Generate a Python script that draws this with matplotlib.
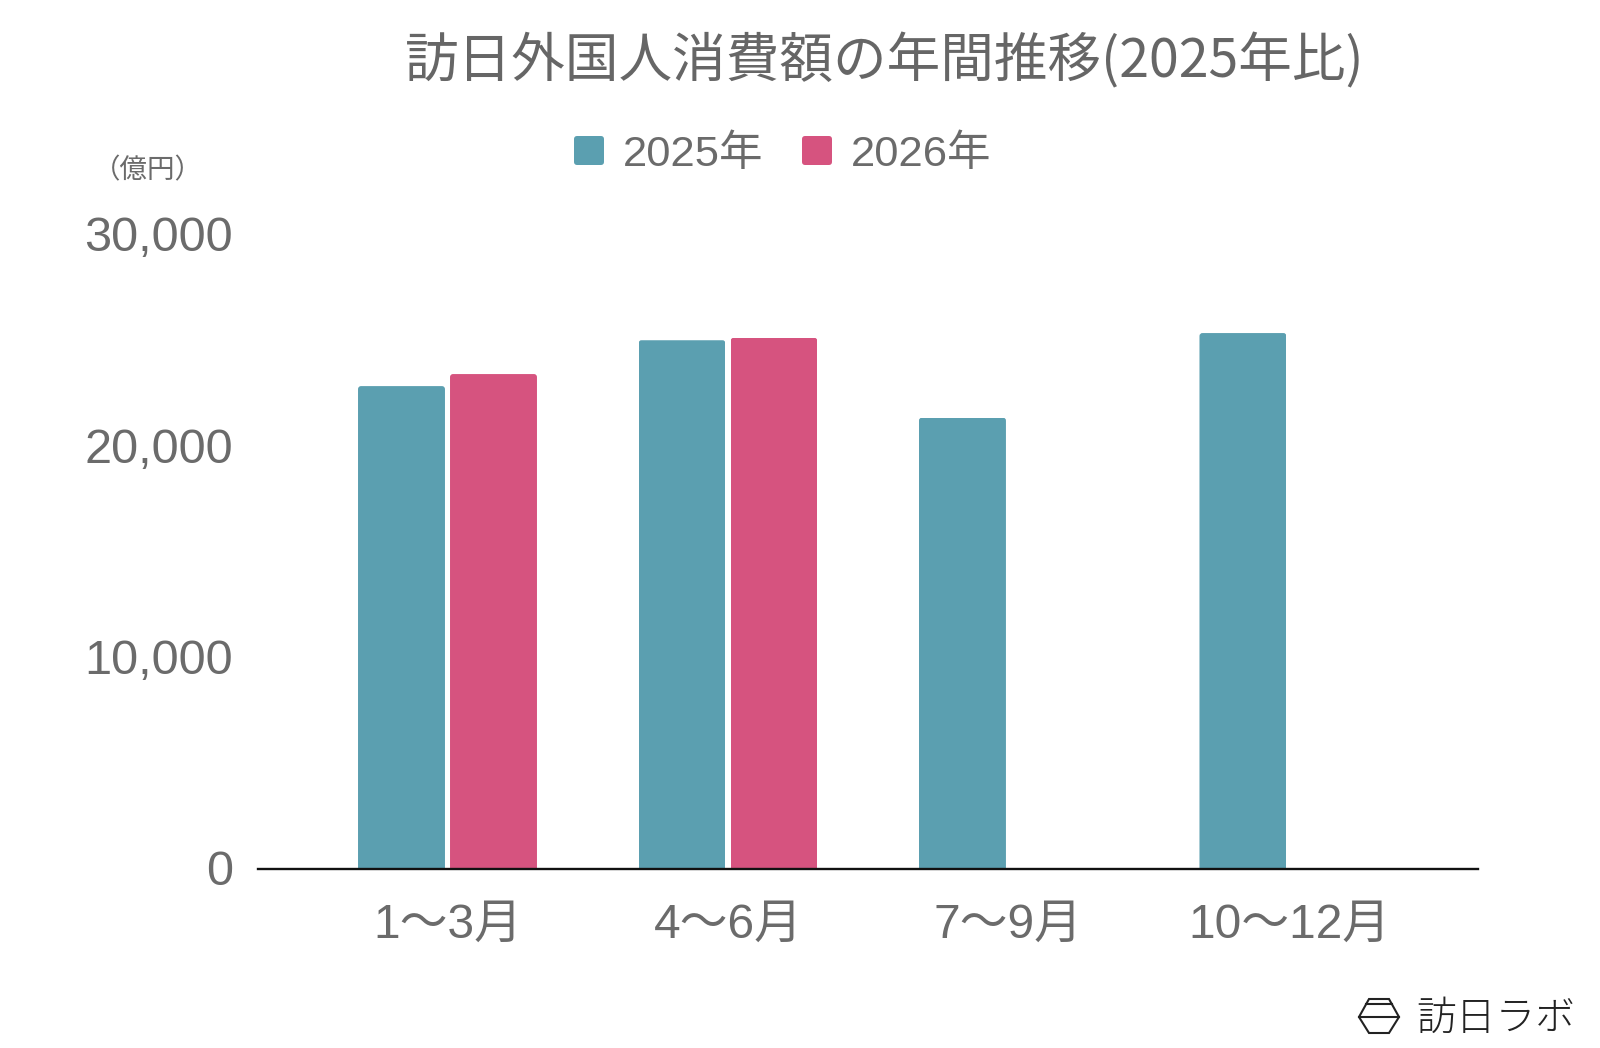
"""Quarterly inbound visitor spending, 2025 vs 2026."""

import matplotlib
matplotlib.use("Agg")
import matplotlib.pyplot as plt
import numpy as np
from matplotlib.lines import Line2D
from matplotlib.patches import FancyBboxPatch, Polygon
from matplotlib.transforms import ScaledTranslation

plt.rcParams["font.family"] = ["Liberation Sans", "Noto Sans CJK JP", "DejaVu Sans"]

QUARTERS = ["1〜3月", "4〜6月", "7〜9月", "10〜12月"]
SPEND_2025 = [22850, 25020, 21360, 25360]
SPEND_2026 = [23420, 25130]
YTICKS = [0, 10000, 20000, 30000]

C_2025 = "#5b9fb0"
C_2026 = "#d6537f"
GREY = "#6b6b6b"
CJK = ["Noto Sans CJK JP", "DejaVu Sans"]

W, H = 1600, 1048
BAR_W = 0.31
OFFSET = 0.164


def rounded_bars(ax, xs, vals, color):
    """Bars with slightly rounded top corners (~3 px)."""
    bars = ax.bar(xs, vals, BAR_W, color=color, linewidth=0, zorder=2)
    rx = 3 / 280.5                 # 1 category = 280.5 px
    ry = 3 / 211.0 * 10000         # 10,000 = 211 px
    for b in bars:
        clip = FancyBboxPatch((b.get_x(), -2000), b.get_width(), b.get_height() + 2000,
                              boxstyle=f"round,pad=0,rounding_size={rx}",
                              mutation_aspect=ry / rx, transform=ax.transData)
        b.set_clip_path(clip)
    return bars


fig = plt.figure(figsize=(W / 100, H / 100), dpi=100, facecolor="white")
ax = fig.add_axes([258 / W, 1 - 869 / H, 1220 / W, 634 / H])

x = np.arange(len(QUARTERS))
rounded_bars(ax, x[:len(SPEND_2025)] - OFFSET, SPEND_2025, C_2025)
rounded_bars(ax, x[:len(SPEND_2026)] + OFFSET, SPEND_2026, C_2026)

ax.set_xlim(-0.6756, 3.674)
ax.set_ylim(0, 30000)
for s in ("top", "left", "right"):
    ax.spines[s].set_visible(False)
ax.spines["bottom"].set_linewidth(1.7)
ax.spines["bottom"].set_color("#111111")
ax.spines["bottom"].set_zorder(5)

ax.set_xticks(x)
ax.set_xticklabels(QUARTERS, fontsize=34.5, color=GREY)
ax.set_yticks(YTICKS)
ax.set_yticklabels([f"{v:,}" for v in YTICKS], fontsize=35, color=GREY)
ax.tick_params(axis="x", length=0, pad=24.5)
ax.tick_params(axis="y", length=0, pad=18)
# nudge the value labels up a touch
nudge = ScaledTranslation(0, 0.8 / 72, fig.dpi_scale_trans)
for lab in ax.get_yticklabels():
    lab.set_transform(lab.get_transform() + nudge)

fig.text(885 / W, 1 - 61 / H, "訪日外国人消費額の年間推移(2025年比)", fontsize=38.6,
         color="#666666", ha="center", va="center", family=CJK)
fig.text(148 / W, 1 - 171 / H, "（億円）", fontsize=19.8, color=GREY, ha="center", va="center",
         family=CJK)

# legend swatches + labels, placed by hand to sit centred above the plot
for px, col, label in [(574, C_2025, "2025年"), (802, C_2026, "2026年")]:
    fig.add_artist(FancyBboxPatch((px / W, 1 - 165 / H), 30 / W, 29 / H,
                                  boxstyle="round,pad=0,rounding_size=0.002",
                                  mutation_aspect=W / H, transform=fig.transFigure,
                                  fc=col, ec="none"))
    fig.text((px + 49) / W, 1 - 155 / H, label, fontsize=31.3, color=GREY, ha="left", va="center")

# brand mark, bottom right
hexagon = np.array([[1359, 1017], [1369, 999], [1389, 999], [1399, 1017], [1389, 1033], [1369, 1033]])
fig.add_artist(Polygon(hexagon / [W, -H] + [0, 1], closed=True, fill=False, ec="#222222",
                       lw=1.5, transform=fig.transFigure))
for yy, x0, x1 in [(1004, 1366, 1392), (1017, 1359, 1399)]:
    fig.add_artist(Line2D([x0 / W, x1 / W], [1 - yy / H] * 2, color="#222222", lw=1.5,
                          transform=fig.transFigure))
fig.text(1416 / W, 1 - 1019 / H, "訪日ラボ", fontsize=28.6, color="#222222", ha="left", va="center",
         family=CJK, fontweight="light")

fig.savefig("out.png", dpi=100)
